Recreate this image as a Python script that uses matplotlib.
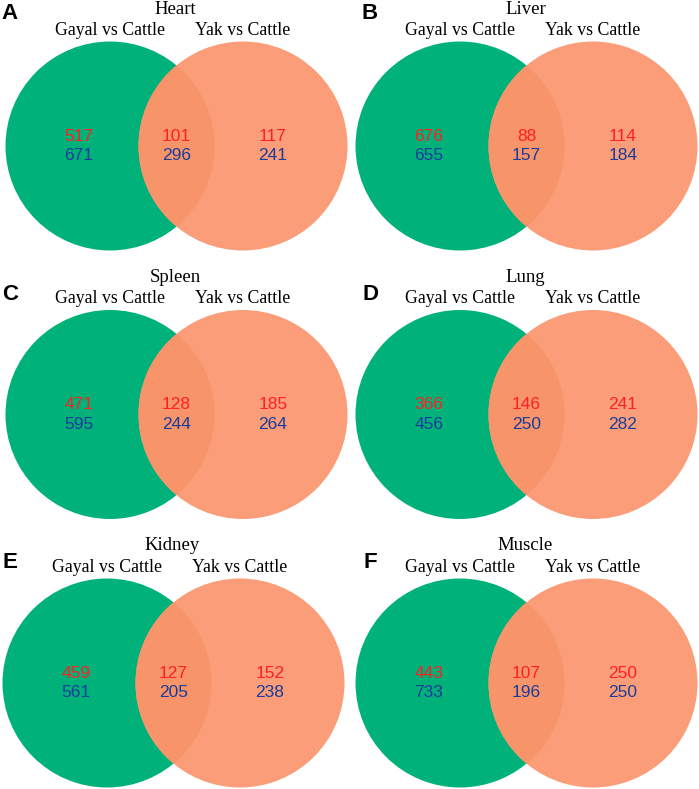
import matplotlib
matplotlib.use("Agg")
import matplotlib.pyplot as plt
from matplotlib.patches import Circle

tissues = ["Heart", "Liver", "Spleen", "Lung", "Kidney", "Muscle"]
letters = ["A", "B", "C", "D", "E", "F"]
set_labels = ["Gayal vs Cattle", "Yak vs Cattle"]
# red (upper) counts: gayal-only, shared, yak-only
up_counts = [[517, 101, 117], [676, 88, 114], [471, 128, 185],
             [366, 146, 241], [459, 127, 152], [443, 107, 250]]
# blue (lower) counts
down_counts = [[671, 296, 241], [655, 157, 184], [595, 244, 264],
               [456, 250, 282], [561, 205, 238], [733, 196, 250]]

GREEN = "#00B27A"
ORANGE = "#FA9D78"
OVERLAP = "#F7946A"
RED = "#FF2020"
BLUE = "#1A3C9A"

fig = plt.figure(figsize=(6.99, 7.89), dpi=100)
ax = fig.add_axes([0, 0, 1, 1])
ax.set_xlim(0, 699)
ax.set_ylim(789, 0)
ax.set_aspect("equal")
ax.axis("off")

serif = ["Liberation Serif", "DejaVu Serif"]
sans = ["Liberation Sans", "DejaVu Sans"]

col_x = [110, 460]
row_y = [146, 414.5, 683]
dx = 133
r = 104.5

for i, t in enumerate(tissues):
    row, col = divmod(i, 2)
    cx, cy = col_x[col], row_y[row]
    if row == 2 and col == 0:
        cx -= 3
    g = Circle((cx, cy), r, facecolor=GREEN, edgecolor="none", zorder=1)
    o = Circle((cx + dx, cy), r, facecolor=ORANGE, edgecolor="none", zorder=2)
    ax.add_patch(g)
    ax.add_patch(o)
    ov = Circle((cx + dx, cy), r, facecolor=OVERLAP, edgecolor="none", zorder=3)
    ax.add_patch(ov)
    clip = Circle((cx, cy), r, transform=ax.transData)
    ov.set_clip_path(clip)

    ax.text(cx + dx / 2 - 1, cy - 137, t, ha="center", va="center",
            fontsize=13.5, family=serif, color="black")
    ax.text(cx, cy - 116, set_labels[0], ha="center", va="center",
            fontsize=12.8, family=serif, color="black")
    ax.text(cx + dx, cy - 116, set_labels[1], ha="center", va="center",
            fontsize=12.8, family=serif, color="black")

    xs = [cx - 31, cx + dx / 2, cx + dx + 30]
    for k in range(3):
        ax.text(xs[k], cy - 10, str(up_counts[i][k]), ha="center", va="center",
                fontsize=12.5, family=sans, color=RED, zorder=5)
        ax.text(xs[k], cy + 9.5, str(down_counts[i][k]), ha="center", va="center",
                fontsize=12.5, family=sans, color=BLUE, zorder=5)

    lx = 10 + col * 360
    ly = 13 if row == 0 else cy - 120
    ax.text(lx, ly, letters[i], ha="center", va="center", fontsize=16,
            family=sans, fontweight="bold", color="black")

fig.savefig("out.png", dpi=100)
